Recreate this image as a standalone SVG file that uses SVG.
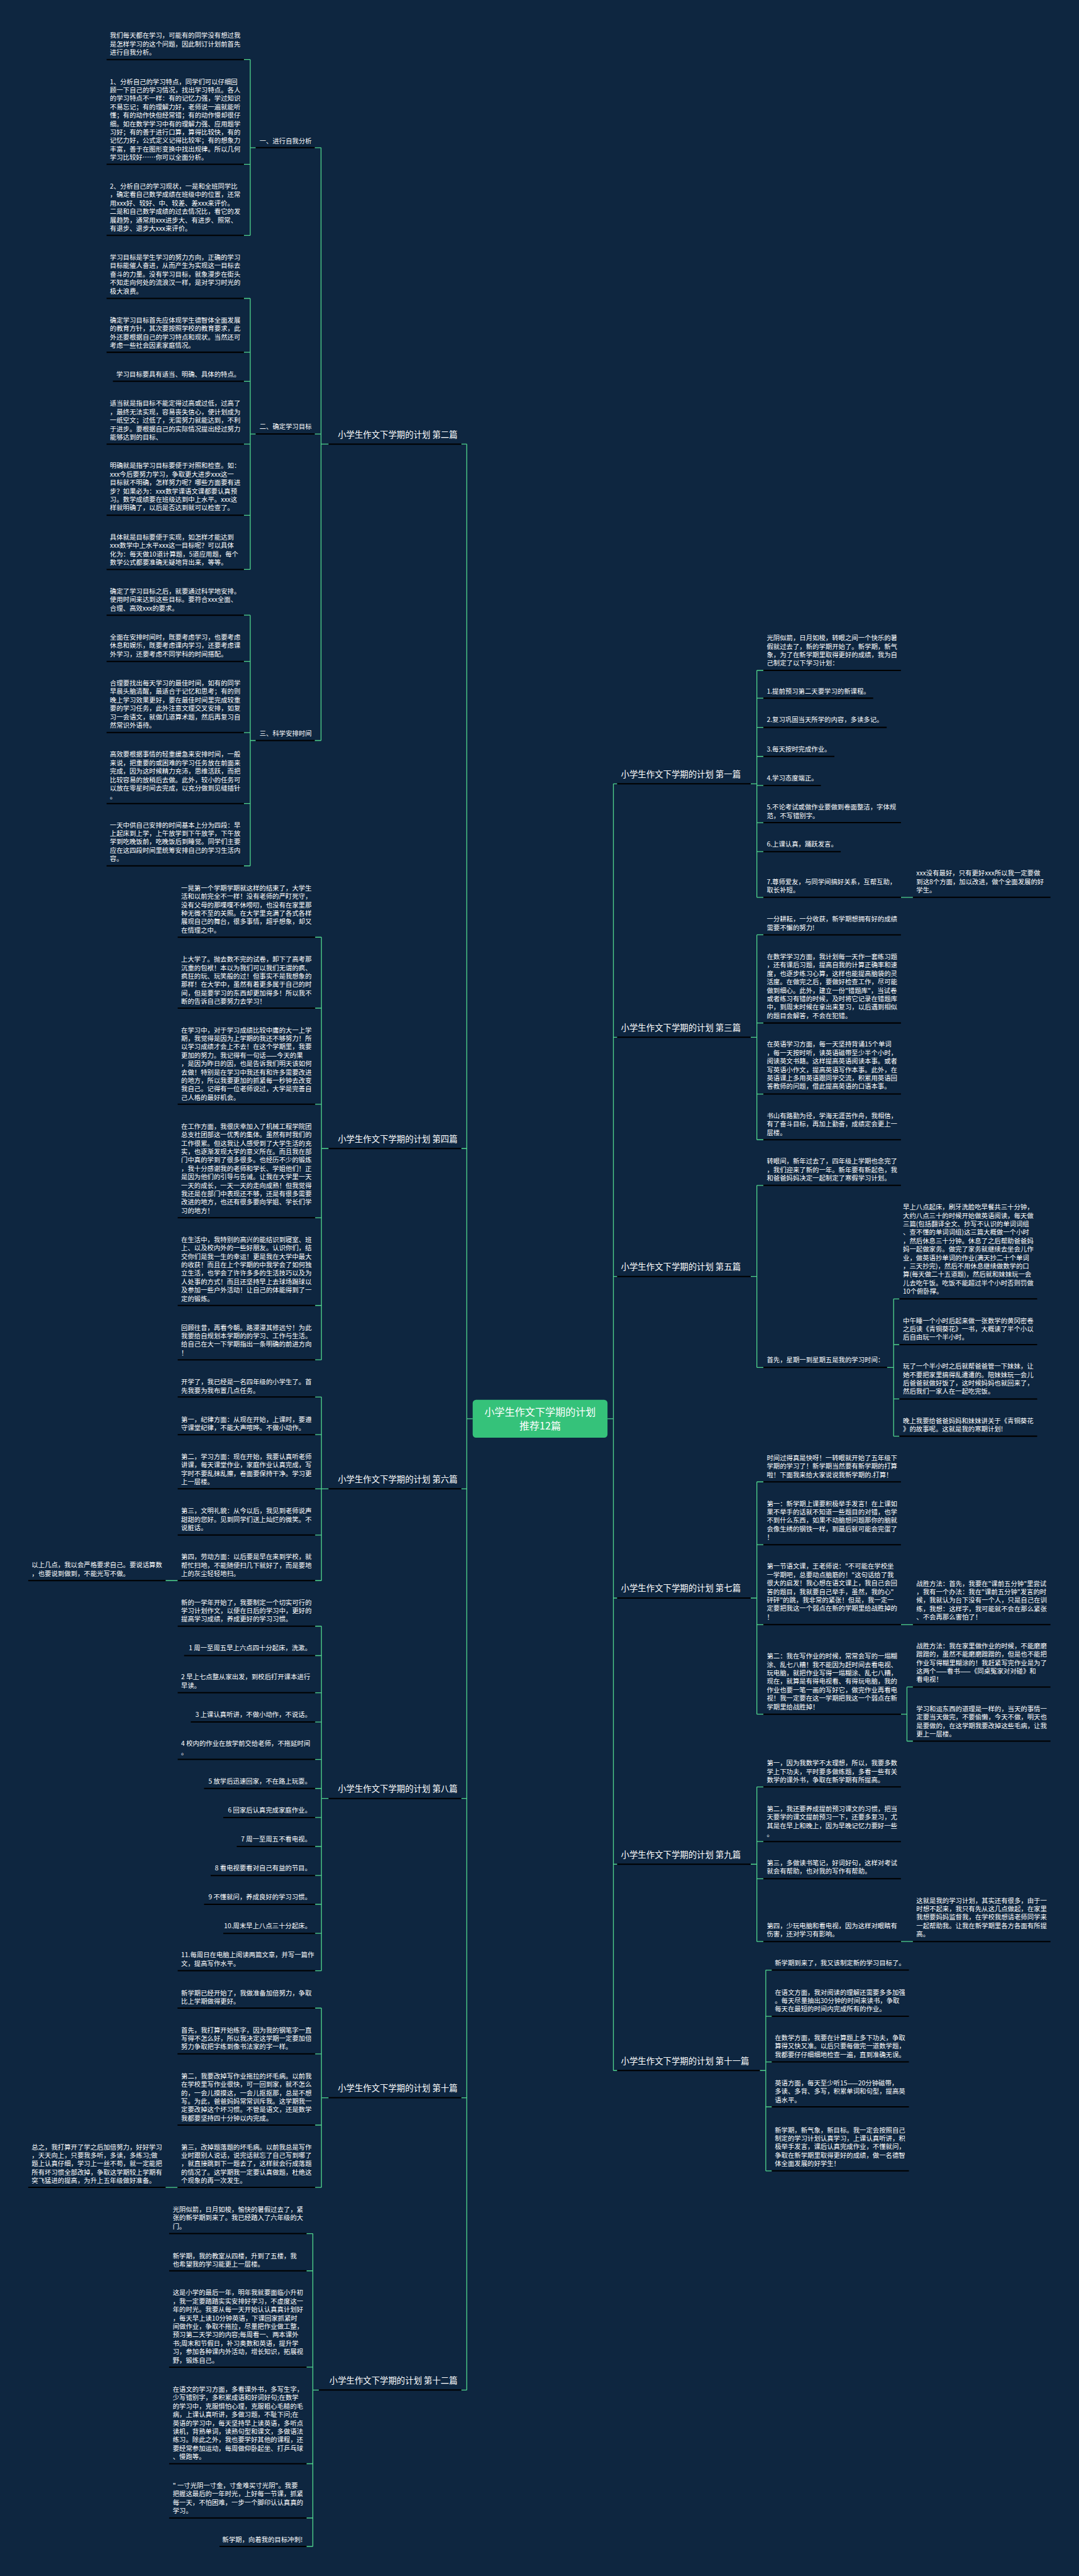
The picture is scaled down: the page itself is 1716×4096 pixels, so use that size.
<svg xmlns="http://www.w3.org/2000/svg" width="1716" height="4096" viewBox="0 0 1716 4096">
<style>
.t{font-family:"Noto Sans CJK SC","Noto Sans",sans-serif;font-size:15.5px;fill:#ffffff}
.lb{font-family:"Noto Sans CJK SC","Noto Sans",sans-serif;font-size:20px;fill:#ffffff}
.ct{font-family:"Noto Sans CJK SC","Noto Sans",sans-serif;font-size:24px;fill:#ffffff}
.ul{stroke:#000000;stroke-width:3}
.cn{stroke:#4fd18b;stroke-width:2;fill:none}
</style>
<rect width="1716" height="4096" fill="#0e2640"/>
<g transform="scale(0.67)">
<g id="connectors" class="cn">
<path d="M579 141.3H594M579 390H594M579 558.7H594M594 141.3V558.7M594 350.5H607M747 350.5H762"/>
<path d="M579 708.2H594M579 836H594M579 905H594M579 1054H594M579 1222.9H594M579 1351.4H594M594 708.2V1351.4M594 1030H607M747 1030H762"/>
<path d="M579 1460H594M579 1569.6H594M579 1738.6H594M579 1907H594M579 2054.9H594M594 1460V2054.9M594 1757.4H607M747 1757.4H762"/>
<path d="M762 350.5V1757.4M762 1054H780"/>
<path d="M748 2224.3H763M748 2392.6H763M748 2620.6H763M748 2890H763M748 3098.2H763M748 3227.1H763M763 2224.3V3227.1M763 2725.7H780"/>
<path d="M748 3315.4H763M748 3404.7H763M748 3533.3H763M748 3643H763M748 3751.1H763M763 3315.4V3751.1M763 3533.3H780M393 3751.1H421.8"/>
<path d="M748 3859.3H763M748 3929.1H763M748 4017.3H763M748 4086.7H763M748 4175.5H763M748 4244.4H763M748 4313.3H763M748 4382.1H763M748 4451H763M748 4519.4H763M748 4588.3H763M748 4677H763M763 3859.3V4677M763 4268.2H780"/>
<path d="M748 4765.7H763M748 4874.4H763M748 5043.3H763M748 5191.2H763M763 4765.7V5191.2M763 4978.5H780M393 5191.2H421.4"/>
<path d="M727.5 5300.9H742.5M727.5 5389.2H742.5M727.5 5617.8H742.5M727.5 5847H742.5M727.5 5975.7H742.5M727.5 6043.3H742.5M742.5 5300.9V6043.3M742.5 5672.1H757"/>
<path d="M1122 3367H1108M1108 1054V5672.1M1095 1054H1108M1095 2725.7H1108M1095 3533.3H1108M1095 4268.2H1108M1095 4978.5H1108M1095 5672.1H1108"/>
<path d="M1442 3367H1456M1456 1860.2V4913.8M1456 1860.2H1465M1456 2461.7H1465M1456 3029.3H1465M1456 3792.5H1465M1456 4424.3H1465M1456 4913.8H1465"/>
<path d="M1782 1860.2H1796.5M1796.5 1591V2129.6M1796.5 1591H1812M1796.5 1656.9H1812M1796.5 1726.3H1812M1796.5 1795.2H1812M1796.5 1864H1812M1796.5 1952.4H1812M1796.5 2021.2H1812M1796.5 2129.6H1812M2138.6 2129.6H2167"/>
<path d="M1782 2461.7H1796.5M1796.5 2218.5V2704.8M1796.5 2218.5H1812M1796.5 2427.8H1812M1796.5 2596.4H1812M1796.5 2704.8H1812"/>
<path d="M1782 3029.3H1796.5M1796.5 2813.2V3245.3M1796.5 2813.2H1812M1796.5 3245.3H1812M2105.6 3245.3H2121.2M2121.2 3082.6V3408.4M2121.2 3082.6H2134.9M2121.2 3191H2134.9M2121.2 3320H2134.9M2121.2 3408.4H2134.9"/>
<path d="M1782 3792.5H1796.5M1796.5 3516.8V4068.2M1796.5 3516.8H1812M1796.5 3665.9H1812M1796.5 3855.7H1812M1796.5 4068.2H1812M2138.6 3855.7H2167M2138.6 4068.2H2152.8M2152.8 4003.6V4132.1M2152.8 4003.6H2167M2152.8 4132.1H2167"/>
<path d="M1782 4424.3H1796.5M1796.5 4240.8V4607.7M1796.5 4240.8H1812M1796.5 4370.4H1812M1796.5 4458.7H1812M1796.5 4607.7H1812M2138.6 4607.7H2167"/>
<path d="M1803.6 4913.8H1817.7M1817.7 4675.5V5152M1817.7 4675.5H1832M1817.7 4785.2H1832M1817.7 4893.4H1832M1817.7 5000H1832M1817.7 5152H1832"/>
</g>

<g id="center">
<rect x="1122" y="3322" width="320" height="90" rx="8" fill="#35c27a"/>
<text class="ct" text-anchor="middle"><tspan x="1282" y="3359">小学生作文下学期的计划</tspan><tspan x="1282" y="3392">推荐12篇</tspan></text>
</g>

<g id="b2"><text class="lb" text-anchor="end" x="1086" y="1038.3">小学生作文下学期的计划 第二篇</text><line class="ul" x1="780" y1="1054" x2="1095" y2="1054"/></g>
<g id="b2-s1"><text class="t" x="616" y="339.6">一、进行自我分析</text><line class="ul" x1="607" y1="350.5" x2="747" y2="350.5"/></g>
<g id="b2-s2"><text class="t" x="616" y="1018.6">二、确定学习目标</text><line class="ul" x1="607" y1="1030" x2="747" y2="1030"/></g>
<g id="b2-s3"><text class="t" x="616" y="1746.6">三、科学安排时间</text><line class="ul" x1="607" y1="1757.4" x2="747" y2="1757.4"/></g>
<g id="b2-a"><text class="t" y="89.8"><tspan x="261">我们每天都在学习，可能有的同学没有想过我</tspan><tspan x="261" dy="20">是怎样学习的这个问题，因此制订计划前首先</tspan><tspan x="261" dy="20">进行自我分析。</tspan></text><line class="ul" x1="253" y1="141.3" x2="579" y2="141.3"/></g>
<g id="b2-b"><text class="t" y="199.5"><tspan x="261">1、分析自己的学习特点，同学们可以仔细回</tspan><tspan x="261" dy="20">顾一下自己的学习情况，找出学习特点。各人</tspan><tspan x="261" dy="20">的学习特点不一样：有的记忆力强，学过知识</tspan><tspan x="261" dy="20">不易忘记；有的理解力好，老师说一遍就能听</tspan><tspan x="261" dy="20">懂；有的动作快但经常错；有的动作慢却很仔</tspan><tspan x="261" dy="20">细。如在数学学习中有的理解力强、应用题学</tspan><tspan x="261" dy="20">习好；有的善于进行口算，算得比较快，有的</tspan><tspan x="261" dy="20">记忆力好，公式定义记得比较牢；有的想象力</tspan><tspan x="261" dy="20">丰富，善于在图形变换中找出规律。所以几何</tspan><tspan x="261" dy="20">学习比较好……你可以全面分析。</tspan></text><line class="ul" x1="253" y1="390" x2="579" y2="390"/></g>
<g id="b2-c"><text class="t" y="447.9"><tspan x="261">2、分析自己的学习现状，一是和全班同学比</tspan><tspan x="261" dy="20">，确定看自己数学成绩在班级中的位置，还常</tspan><tspan x="261" dy="20">用xxx好、较好、中、较差、差xxx来评价。</tspan><tspan x="261" dy="20">二是和自己数学成绩的过去情况比，看它的发</tspan><tspan x="261" dy="20">展趋势，通常用xxx进步大、有进步、照常、</tspan><tspan x="261" dy="20">有退步、退步大xxx来评价。</tspan></text><line class="ul" x1="253" y1="558.7" x2="579" y2="558.7"/></g>
<g id="b2-d"><text class="t" y="616.3"><tspan x="261">学习目标是学生学习的努力方向，正确的学习</tspan><tspan x="261" dy="20">目标能催人奋进，从而产生为实现这一目标去</tspan><tspan x="261" dy="20">奋斗的力量。没有学习目标，就象漫步在街头</tspan><tspan x="261" dy="20">不知走向何处的流浪汉一样，是对学习时光的</tspan><tspan x="261" dy="20">极大浪费。</tspan></text><line class="ul" x1="253" y1="708.2" x2="579" y2="708.2"/></g>
<g id="b2-e"><text class="t" y="765.8"><tspan x="261">确定学习目标首先应体现学生德智体全面发展</tspan><tspan x="261" dy="20">的教育方针，其次要按照学校的教育要求，此</tspan><tspan x="261" dy="20">外还要根据自己的学习特点和现状。当然还可</tspan><tspan x="261" dy="20">考虑一些社会因素家庭情况。</tspan></text><line class="ul" x1="253" y1="836" x2="579" y2="836"/></g>
<g id="b2-f"><text class="t" text-anchor="end" x="570.5" y="893.8">学习目标要具有适当、明确、具体的特点。</text><line class="ul" x1="268" y1="905" x2="579" y2="905"/></g>
<g id="b2-g"><text class="t" y="963.2"><tspan x="261">适当就是指目标不能定得过高或过低，过高了</tspan><tspan x="261" dy="20">，最终无法实现，容易丧失信心，使计划成为</tspan><tspan x="261" dy="20">一纸空文；过低了，无需努力就能达到，不利</tspan><tspan x="261" dy="20">于进步。要根据自己的实际情况提出经过努力</tspan><tspan x="261" dy="20">能够达到的目标、</tspan></text><line class="ul" x1="253" y1="1054" x2="579" y2="1054"/></g>
<g id="b2-h"><text class="t" y="1111.1"><tspan x="261">明确就是指学习目标要便于对照和检查。如：</tspan><tspan x="261" dy="20">xxx今后要努力学习，争取更大进步xxx这一</tspan><tspan x="261" dy="20">目标就不明确，怎样努力呢？哪些方面要有进</tspan><tspan x="261" dy="20">步？如果必为：xxx数学课语文课都要认真预</tspan><tspan x="261" dy="20">习。数学成绩要在班级达到中上水平。xxx这</tspan><tspan x="261" dy="20">样就明确了，以后是否达到就可以检查了。</tspan></text><line class="ul" x1="253" y1="1222.9" x2="579" y2="1222.9"/></g>
<g id="b2-i"><text class="t" y="1280.5"><tspan x="261">具体就是目标要便于实现，如怎样才能达到</tspan><tspan x="261" dy="20">xxx数学中上水平xxx这一目标呢？可以具体</tspan><tspan x="261" dy="20">化为：每天做10道计算题，5道应用题，每个</tspan><tspan x="261" dy="20">数学公式都要准确无疑地背出来，等等。</tspan></text><line class="ul" x1="253" y1="1351.4" x2="579" y2="1351.4"/></g>
<g id="b2-j"><text class="t" y="1409.1"><tspan x="261">确定了学习目标之后，就要通过科学地安排。</tspan><tspan x="261" dy="20">使用时间来达到这些目标。要符合xxx全面、</tspan><tspan x="261" dy="20">合理、高效xxx的要求。</tspan></text><line class="ul" x1="253" y1="1460" x2="579" y2="1460"/></g>
<g id="b2-k"><text class="t" y="1517.7"><tspan x="261">全面在安排时间时，既要考虑学习，也要考虑</tspan><tspan x="261" dy="20">休息和娱乐，既要考虑课内学习，还要考虑课</tspan><tspan x="261" dy="20">外学习，还要考虑不同学科的时间搭配。</tspan></text><line class="ul" x1="253" y1="1569.6" x2="579" y2="1569.6"/></g>
<g id="b2-l"><text class="t" y="1626.8"><tspan x="261">合理要找出每天学习的最佳时间，如有的同学</tspan><tspan x="261" dy="20">早晨头脑清醒，最适合于记忆和思考；有的则</tspan><tspan x="261" dy="20">晚上学习效果更好，要在最佳时间里完成较重</tspan><tspan x="261" dy="20">要的学习任务，此外注意文理交叉安排，如复</tspan><tspan x="261" dy="20">习一会语文，就做几道算术题，然后再复习自</tspan><tspan x="261" dy="20">然常识外语待。</tspan></text><line class="ul" x1="253" y1="1738.6" x2="579" y2="1738.6"/></g>
<g id="b2-m"><text class="t" y="1796.2"><tspan x="261">高效要根据事情的轻重缓急来安排时间，一般</tspan><tspan x="261" dy="20">来说，把重要的或困难的学习任务放在前面来</tspan><tspan x="261" dy="20">完成，因为这时候精力充沛，思维活跃，而把</tspan><tspan x="261" dy="20">比较容易的放稍后去做。此外，较小的任务可</tspan><tspan x="261" dy="20">以放在零星时间去完成，以充分做到见缝插针</tspan><tspan x="261" dy="20">。</tspan></text><line class="ul" x1="253" y1="1907" x2="579" y2="1907"/></g>
<g id="b2-n"><text class="t" y="1963.6"><tspan x="261">一天中供自己安排的时间基本上分为四段：早</tspan><tspan x="261" dy="20">上起床到上学，上午放学到下午放学，下午放</tspan><tspan x="261" dy="20">学到吃晚饭前，吃晚饭后到睡觉。同学们主要</tspan><tspan x="261" dy="20">应在这四段时间里统筹安排自己的学习生活内</tspan><tspan x="261" dy="20">容。</tspan></text><line class="ul" x1="253" y1="2054.9" x2="579" y2="2054.9"/></g>

<g id="b4"><text class="lb" text-anchor="end" x="1086" y="2710">小学生作文下学期的计划 第四篇</text><line class="ul" x1="780" y1="2725.7" x2="1095" y2="2725.7"/></g>
<g id="b4-p"><text class="t" y="2113.1"><tspan x="430">一晃第一个学期学期就这样的结束了，大学生</tspan><tspan x="430" dy="20">活和以前完全不一样！没有老师的严盯死守，</tspan><tspan x="430" dy="20">没有父母的那喋喋不休唠叨，也没有在家里那</tspan><tspan x="430" dy="20">种无微不至的关照。在大学里充满了各式各样</tspan><tspan x="430" dy="20">展现自己的舞台，很多事情，超乎想象，却又</tspan><tspan x="430" dy="20">在情理之中。</tspan></text><line class="ul" x1="421.8" y1="2224.3" x2="748" y2="2224.3"/></g>
<g id="b4-q"><text class="t" y="2282.4"><tspan x="430">上大学了。抛去数不完的试卷，卸下了高考那</tspan><tspan x="430" dy="20">沉重的包袱！本以为我们可以我们无谓的疯、</tspan><tspan x="430" dy="20">疯狂的玩、玩笑般的过！但事实不是我想象的</tspan><tspan x="430" dy="20">那样！在大学中，虽然有着更多属于自己的时</tspan><tspan x="430" dy="20">间，但是要学习的东西却更加得多！所以我不</tspan><tspan x="430" dy="20">断的告诉自己要努力去学习！</tspan></text><line class="ul" x1="421.8" y1="2392.6" x2="748" y2="2392.6"/></g>
<g id="b4-r"><text class="t" y="2450.2"><tspan x="430">在学习中，对于学习成绩比较中庸的大一上学</tspan><tspan x="430" dy="20">期，我觉得是因为上学期的我还不够努力！所</tspan><tspan x="430" dy="20">以学习成绩才会上不去！在这个学期里，我要</tspan><tspan x="430" dy="20">更加的努力。我记得有一句话——今天的果</tspan><tspan x="430" dy="20">，是因为昨日的因，也是告诉我们明天该如何</tspan><tspan x="430" dy="20">去做！特别是在学习中我还有和许多需要改进</tspan><tspan x="430" dy="20">的地方，所以我要更加的抓紧每一秒钟去改变</tspan><tspan x="430" dy="20">我自己。记得有一位老师说过，大学是完善自</tspan><tspan x="430" dy="20">己人格的最好机会。</tspan></text><line class="ul" x1="421.8" y1="2620.6" x2="748" y2="2620.6"/></g>
<g id="b4-s"><text class="t" y="2678.8"><tspan x="430">在工作方面，我很庆幸加入了机械工程学院团</tspan><tspan x="430" dy="20">总支社团部这一优秀的集体。虽然有时我们的</tspan><tspan x="430" dy="20">工作很累。但这我让人感受到了大学生活的充</tspan><tspan x="430" dy="20">实，也逐渐发现大学的意义所在。而且我在部</tspan><tspan x="430" dy="20">门中真的学到了很多很多。也经历不少的锻炼</tspan><tspan x="430" dy="20">，我十分感谢我的老师和学长、学姐他们！正</tspan><tspan x="430" dy="20">是因为他们的引导与告诫。让我在大学里一天</tspan><tspan x="430" dy="20">一天的成长，一天一天的走向成熟！但我觉得</tspan><tspan x="430" dy="20">我还是在部门中表现还不够，还是有很多需要</tspan><tspan x="430" dy="20">改进的地方，也还有很多要向学姐、学长们学</tspan><tspan x="430" dy="20">习的地方！</tspan></text><line class="ul" x1="421.8" y1="2890" x2="748" y2="2890"/></g>
<g id="b4-t"><text class="t" y="2947.6"><tspan x="430">在生活中，我特别的高兴的能结识到寝室、班</tspan><tspan x="430" dy="20">上、以及校内外的一些好朋友。认识你们，结</tspan><tspan x="430" dy="20">交你们是我一生的幸运！更是我在大学中最大</tspan><tspan x="430" dy="20">的收获！而且在上个学期的中我学会了如何独</tspan><tspan x="430" dy="20">立生活，也学会了许许多多的生活技巧以及为</tspan><tspan x="430" dy="20">人处事的方式！而且还坚持早上去球场踢球以</tspan><tspan x="430" dy="20">及参加一些户外活动！让自己的体能得到了一</tspan><tspan x="430" dy="20">定的锻炼。</tspan></text><line class="ul" x1="421.8" y1="3098.2" x2="748" y2="3098.2"/></g>
<g id="b4-u"><text class="t" y="3156.2"><tspan x="430">回顾往昔，再看今朝。路漫漫其修远兮！为此</tspan><tspan x="430" dy="20">我要给自规划本学期的的学习、工作与生活。</tspan><tspan x="430" dy="20">给自己在大一下学期指出一条明确的前进方向</tspan><tspan x="430" dy="20">！</tspan></text><line class="ul" x1="421.8" y1="3227.1" x2="748" y2="3227.1"/></g>

<g id="b6"><text class="lb" text-anchor="end" x="1086" y="3517.6">小学生作文下学期的计划 第六篇</text><line class="ul" x1="780" y1="3533.3" x2="1095" y2="3533.3"/></g>
<g id="b6-v"><text class="t" y="3285.3"><tspan x="430">开学了，我已经是一名四年级的小学生了。首</tspan><tspan x="430" dy="20">先我要为我布置几点任务。</tspan></text><line class="ul" x1="421.8" y1="3315.4" x2="748" y2="3315.4"/></g>
<g id="b6-w"><text class="t" y="3374.1"><tspan x="430">第一，纪律方面：从现在开始，上课时，要遵</tspan><tspan x="430" dy="20">守课堂纪律，不能大声喧哗。不做小动作。</tspan></text><line class="ul" x1="421.8" y1="3404.7" x2="748" y2="3404.7"/></g>
<g id="b6-x"><text class="t" y="3462.3"><tspan x="430">第二，学习方面：现在开始，我要认真听老师</tspan><tspan x="430" dy="20">讲课，每天课堂作业，家庭作业认真完成，写</tspan><tspan x="430" dy="20">字时不要乱抹乱擦，卷面要保持干净。学习更</tspan><tspan x="430" dy="20">上一层楼。</tspan></text><line class="ul" x1="421.8" y1="3533.3" x2="748" y2="3533.3"/></g>
<g id="b6-y"><text class="t" y="3591.4"><tspan x="430">第三，文明礼貌：从今以后，我见到老师说声</tspan><tspan x="430" dy="20">甜甜的您好。见到同学们送上灿烂的微笑。不</tspan><tspan x="430" dy="20">说脏话。</tspan></text><line class="ul" x1="421.8" y1="3643" x2="748" y2="3643"/></g>
<g id="b6-z"><text class="t" y="3700.6"><tspan x="430">第四，劳动方面：以后要是早在来到学校，就</tspan><tspan x="430" dy="20">帮忙扫地，不能随便扫几下就好了，而是要地</tspan><tspan x="430" dy="20">上的灰尘轻轻地扫。</tspan></text><line class="ul" x1="421.8" y1="3751.1" x2="748" y2="3751.1"/></g>
<g id="b6-z1"><text class="t" y="3720"><tspan x="75">以上几点，我以会严格要求自己。要说话算数</tspan><tspan x="75" dy="20">，也要说到做到，不能光写不做。</tspan></text><line class="ul" x1="67" y1="3751.1" x2="393" y2="3751.1"/></g>

<g id="b8"><text class="lb" text-anchor="end" x="1086" y="4252.5">小学生作文下学期的计划 第八篇</text><line class="ul" x1="780" y1="4268.2" x2="1095" y2="4268.2"/></g>
<g id="b8-a"><text class="t" y="3808.3"><tspan x="430">新的一学年开始了，我要制定一个切实可行的</tspan><tspan x="430" dy="20">学习计划作文，以便在日后的学习中，更好的</tspan><tspan x="430" dy="20">提高学习成绩，养成更好的学习习惯。</tspan></text><line class="ul" x1="421.8" y1="3859.3" x2="748" y2="3859.3"/></g>
<g id="b8-1"><text class="t" text-anchor="end" x="739" y="3917.1">1 周一至周五早上六点四十分起床，洗漱。</text><line class="ul" x1="437" y1="3929.1" x2="748" y2="3929.1"/></g>
<g id="b8-2"><text class="t" y="3985.7"><tspan x="430">2 早上七点整从家出发，到校后打开课本进行</tspan><tspan x="430" dy="20">早读。</tspan></text><line class="ul" x1="421.8" y1="4017.3" x2="748" y2="4017.3"/></g>
<g id="b8-3"><text class="t" text-anchor="end" x="739" y="4075">3 上课认真听讲，不做小动作，不说话。</text><line class="ul" x1="452.8" y1="4086.7" x2="748" y2="4086.7"/></g>
<g id="b8-4"><text class="t" y="4143.9"><tspan x="430">4 校内的作业在放学前交给老师，不拖延时间</tspan><tspan x="430" dy="20">。</tspan></text><line class="ul" x1="421.8" y1="4175.5" x2="748" y2="4175.5"/></g>
<g id="b8-5"><text class="t" text-anchor="end" x="739" y="4232.6">5 放学后迅速回家，不在路上玩耍。</text><line class="ul" x1="484.3" y1="4244.4" x2="748" y2="4244.4"/></g>
<g id="b8-6"><text class="t" text-anchor="end" x="739" y="4301.5">6 回家后认真完成家庭作业。</text><line class="ul" x1="530" y1="4313.3" x2="748" y2="4313.3"/></g>
<g id="b8-7"><text class="t" text-anchor="end" x="739" y="4369.9">7 周一至周五不看电视。</text><line class="ul" x1="562" y1="4382.1" x2="748" y2="4382.1"/></g>
<g id="b8-8"><text class="t" text-anchor="end" x="739" y="4438.8">8 看电视要看对自己有益的节目。</text><line class="ul" x1="500" y1="4451" x2="748" y2="4451"/></g>
<g id="b8-9"><text class="t" text-anchor="end" x="739" y="4507.6">9 不懂就问，养成良好的学习习惯。</text><line class="ul" x1="484.3" y1="4519.4" x2="748" y2="4519.4"/></g>
<g id="b8-10"><text class="t" text-anchor="end" x="739" y="4576.5">10.周末早上八点三十分起床。</text><line class="ul" x1="530" y1="4588.3" x2="748" y2="4588.3"/></g>
<g id="b8-11"><text class="t" y="4645.4"><tspan x="430">11.每周日在电脑上阅读两篇文章，并写一篇作</tspan><tspan x="430" dy="20">文，提高写作水平。</tspan></text><line class="ul" x1="421.8" y1="4677" x2="748" y2="4677"/></g>

<g id="b10"><text class="lb" text-anchor="end" x="1086" y="4962.8">小学生作文下学期的计划 第十篇</text><line class="ul" x1="780" y1="4978.5" x2="1095" y2="4978.5"/></g>
<g id="b10-a"><text class="t" y="4735.1"><tspan x="430">新学期已经开始了，我做准备加倍努力，争取</tspan><tspan x="430" dy="20">比上学期做得更好。</tspan></text><line class="ul" x1="421.4" y1="4765.7" x2="748" y2="4765.7"/></g>
<g id="b10-b"><text class="t" y="4823.4"><tspan x="430">首先，我打算开始练字，因为我的钢笔字一直</tspan><tspan x="430" dy="20">写得不怎么好，所以我决定这学期一定要加倍</tspan><tspan x="430" dy="20">努力争取把字练到像书法家的字一样。</tspan></text><line class="ul" x1="421.4" y1="4874.4" x2="748" y2="4874.4"/></g>
<g id="b10-c"><text class="t" y="4932.5"><tspan x="430">第二，我要改掉写作业拖拉的坏毛病。以前我</tspan><tspan x="430" dy="20">在学校里写作业很快，可一回到家，就不怎么</tspan><tspan x="430" dy="20">的，一会儿摸摸这，一会儿抠抠那，总是不想</tspan><tspan x="430" dy="20">写。为此，爸爸妈妈常常训斥我。这学期我一</tspan><tspan x="430" dy="20">定要改掉这个坏习惯。不管是语文，还是数学</tspan><tspan x="430" dy="20">我都要坚持四十分钟以内完成。</tspan></text><line class="ul" x1="421.4" y1="5043.3" x2="748" y2="5043.3"/></g>
<g id="b10-d"><text class="t" y="5100.9"><tspan x="430">第三，改掉题落题的坏毛病。以前我总是写作</tspan><tspan x="430" dy="20">业时跟别人说话，说完话就忘了自己写到哪了</tspan><tspan x="430" dy="20">，就直接跳到下一题去了，这样就会行成落题</tspan><tspan x="430" dy="20">的情况了。这学期我一定要认真做题，杜绝这</tspan><tspan x="430" dy="20">个现象的再一次发生。</tspan></text><line class="ul" x1="421.4" y1="5191.2" x2="748" y2="5191.2"/></g>
<g id="b10-d1"><text class="t" y="5100.9"><tspan x="75">总之，我打算开了学之后加倍努力，好好学习</tspan><tspan x="75" dy="20">，天天向上，只要我多听，多读，多练习;做</tspan><tspan x="75" dy="20">题上认真仔细，学习上一丝不苟，就一定能把</tspan><tspan x="75" dy="20">所有坏习惯全部改掉，争取这学期较上学期有</tspan><tspan x="75" dy="20">突飞猛进的提高，为升上五年级做好准备。</tspan></text><line class="ul" x1="67" y1="5191.2" x2="393" y2="5191.2"/></g>

<g id="b12"><text class="lb" text-anchor="end" x="1086" y="5656.4">小学生作文下学期的计划 第十二篇</text><line class="ul" x1="757" y1="5672.1" x2="1095" y2="5672.1"/></g>
<g id="b12-a"><text class="t" y="5249.4"><tspan x="410">光阴似箭，日月如梭，愉快的暑假过去了，紧</tspan><tspan x="410" dy="20">张的新学期到来了。我已经踏入了六年级的大</tspan><tspan x="410" dy="20">门。</tspan></text><line class="ul" x1="401.4" y1="5300.9" x2="727.5" y2="5300.9"/></g>
<g id="b12-b"><text class="t" y="5359.1"><tspan x="410">新学期，我的教室从四楼，升到了五楼，我</tspan><tspan x="410" dy="20">也希望我的学习能更上一层楼。</tspan></text><line class="ul" x1="401.4" y1="5389.2" x2="727.5" y2="5389.2"/></g>
<g id="b12-c"><text class="t" y="5446.8"><tspan x="410">这是小学的最后一年，明年我就要面临小升初</tspan><tspan x="410" dy="20">，我一定要踏踏实实安排好学习，不虚度这一</tspan><tspan x="410" dy="20">年的时光。我要从每一天开始认认真真计划好</tspan><tspan x="410" dy="20">，每天早上读10分钟英语，下课回家抓紧时</tspan><tspan x="410" dy="20">间做作业，争取不拖拉，尽量把作业做工整，</tspan><tspan x="410" dy="20">预习第二天学习的内容;每周看一、两本课外</tspan><tspan x="410" dy="20">书;周末和节假日，补习奥数和英语，提升学</tspan><tspan x="410" dy="20">习，参加各种课内外活动，增长知识，拓展视</tspan><tspan x="410" dy="20">野，锻炼自己。</tspan></text><line class="ul" x1="401.4" y1="5617.8" x2="727.5" y2="5617.8"/></g>
<g id="b12-d"><text class="t" y="5676.1"><tspan x="410">在语文的学习方面，多看课外书，多写生字，</tspan><tspan x="410" dy="20">少写错别字，多积累成语和好词好句;在数学</tspan><tspan x="410" dy="20">的学习中，克服惧怕心理，克服粗心毛糙的毛</tspan><tspan x="410" dy="20">病，上课认真听讲，多做习题，不耻下问;在</tspan><tspan x="410" dy="20">英语的学习中，每天坚持早上读英语，多听点</tspan><tspan x="410" dy="20">读机，背熟单词，读熟句型和课文，多做语法</tspan><tspan x="410" dy="20">练习。除此之外，我也要学好其他的课程，还</tspan><tspan x="410" dy="20">要经常参加运动，每周做仰卧起坐、打乒乓球</tspan><tspan x="410" dy="20">、慢跑等。</tspan></text><line class="ul" x1="401.4" y1="5847" x2="727.5" y2="5847"/></g>
<g id="b12-e"><text class="t" y="5904.5"><tspan x="410">" 一寸光阴一寸金，寸金难买寸光阴"。我要</tspan><tspan x="410" dy="20">把握这最后的一年时光，上好每一节课，抓紧</tspan><tspan x="410" dy="20">每一天，不怕困难，一步一个脚印认认真真的</tspan><tspan x="410" dy="20">学习。</tspan></text><line class="ul" x1="401.4" y1="5975.7" x2="727.5" y2="5975.7"/></g>
<g id="b12-f"><text class="t" text-anchor="end" x="718.5" y="6032.3">新学期，向着我的目标冲刺!</text><line class="ul" x1="521" y1="6043.3" x2="727.5" y2="6043.3"/></g>

<g id="b1"><text class="lb" x="1474" y="1844.5">小学生作文下学期的计划 第一篇</text><line class="ul" x1="1465" y1="1860.2" x2="1782" y2="1860.2"/></g>
<g id="b1-0"><text class="t" y="1519.6"><tspan x="1820">光阴似箭，日月如梭，转眼之间一个快乐的暑</tspan><tspan x="1820" dy="20">假就过去了，新的学期开始了。新学期，新气</tspan><tspan x="1820" dy="20">象，为了在新学期里取得更好的成绩，我为自</tspan><tspan x="1820" dy="20">己制定了以下学习计划：</tspan></text><line class="ul" x1="1812" y1="1591" x2="2138.6" y2="1591"/></g>
<g id="b1-1"><text class="t" x="1820" y="1646.3">1.提前预习第二天要学习的新课程。</text><line class="ul" x1="1812" y1="1656.9" x2="2072.6" y2="1656.9"/></g>
<g id="b1-2"><text class="t" x="1820" y="1714">2.复习巩固当天所学的内容，多读多记。</text><line class="ul" x1="1812" y1="1726.3" x2="2104.7" y2="1726.3"/></g>
<g id="b1-3"><text class="t" x="1820" y="1782.9">3.每天按时完成作业。</text><line class="ul" x1="1812" y1="1795.2" x2="1980.6" y2="1795.2"/></g>
<g id="b1-4"><text class="t" x="1820" y="1852.3">4.学习态度端正。</text><line class="ul" x1="1812" y1="1864" x2="1948.5" y2="1864"/></g>
<g id="b1-5"><text class="t" y="1921.1"><tspan x="1820">5.不论考试或做作业要做到卷面整洁，字体规</tspan><tspan x="1820" dy="20">范，不写错别字。</tspan></text><line class="ul" x1="1812" y1="1952.4" x2="2138.6" y2="1952.4"/></g>
<g id="b1-6"><text class="t" x="1820" y="2009.5">6.上课认真，踊跃发言。</text><line class="ul" x1="1812" y1="2021.2" x2="1995.7" y2="2021.2"/></g>
<g id="b1-7"><text class="t" y="2097.8"><tspan x="1820">7.尊师爱友，与同学间搞好关系，互帮互助，</tspan><tspan x="1820" dy="20">取长补短。</tspan></text><line class="ul" x1="1812" y1="2129.6" x2="2138.6" y2="2129.6"/></g>
<g id="b1-7a"><text class="t" y="2078.3"><tspan x="2175">xxx没有最好，只有更好xxx所以我一定要做</tspan><tspan x="2175" dy="20">到这8个方面，加以改进，做个全面发展的好</tspan><tspan x="2175" dy="20">学生。</tspan></text><line class="ul" x1="2167" y1="2129.6" x2="2493.5" y2="2129.6"/></g>

<g id="b3"><text class="lb" x="1474" y="2446">小学生作文下学期的计划 第三篇</text><line class="ul" x1="1465" y1="2461.7" x2="1782" y2="2461.7"/></g>
<g id="b3-a"><text class="t" y="2187.3"><tspan x="1820">一分耕耘，一分收获，新学期想拥有好的成绩</tspan><tspan x="1820" dy="20">需要不懈的努力!</tspan></text><line class="ul" x1="1812" y1="2218.5" x2="2138.6" y2="2218.5"/></g>
<g id="b3-b"><text class="t" y="2276.2"><tspan x="1820">在数学学习方面，我计划每一天作一套练习题</tspan><tspan x="1820" dy="20">，还有课后习题，提高自我的计算正确率和速</tspan><tspan x="1820" dy="20">度，也逐步练习心算，这样也能提高脑袋的灵</tspan><tspan x="1820" dy="20">活度。在做完之后，要做好检查工作，尽可能</tspan><tspan x="1820" dy="20">做到细心。此外，建立一份"错题库"，当试卷</tspan><tspan x="1820" dy="20">或者练习有错的时候，及时将它记录在错题库</tspan><tspan x="1820" dy="20">中，到周末时候在拿出来复习，以后遇到相似</tspan><tspan x="1820" dy="20">的题目会解答，不会在犯错。</tspan></text><line class="ul" x1="1812" y1="2427.8" x2="2138.6" y2="2427.8"/></g>
<g id="b3-c"><text class="t" y="2484.3"><tspan x="1820">在英语学习方面，每一天坚持背诵15个单词</tspan><tspan x="1820" dy="20">，每一天按时听，读英语磁带至少半个小时，</tspan><tspan x="1820" dy="20">阅读英文书籍。这样提高英语阅读本事。或者</tspan><tspan x="1820" dy="20">写英语小作文，提高英语写作本事。此外，在</tspan><tspan x="1820" dy="20">英语课上多用英语跟同学交流，积累用英语回</tspan><tspan x="1820" dy="20">答教师的问题，借此提高英语的口语本事。</tspan></text><line class="ul" x1="1812" y1="2596.4" x2="2138.6" y2="2596.4"/></g>
<g id="b3-d"><text class="t" y="2653.5"><tspan x="1820">书山有路勤为径，学海无涯苦作舟，我相信，</tspan><tspan x="1820" dy="20">有了奋斗目标，再加上勤奋，成绩定会更上一</tspan><tspan x="1820" dy="20">层楼。</tspan></text><line class="ul" x1="1812" y1="2704.8" x2="2138.6" y2="2704.8"/></g>

<g id="b5"><text class="lb" x="1474" y="3013.6">小学生作文下学期的计划 第五篇</text><line class="ul" x1="1465" y1="3029.3" x2="1782" y2="3029.3"/></g>
<g id="b5-e"><text class="t" y="2761.9"><tspan x="1820">转眼间，新年过去了，四年级上学期也念完了</tspan><tspan x="1820" dy="20">，我们迎来了新的一年。新年要有新起色，我</tspan><tspan x="1820" dy="20">和爸爸妈妈决定一起制定了寒假学习计划。</tspan></text><line class="ul" x1="1812" y1="2813.2" x2="2138.6" y2="2813.2"/></g>
<g id="b5-f"><text class="t" x="1820" y="3233.5">首先，星期一到星期五是我的学习时间：</text><line class="ul" x1="1812" y1="3245.3" x2="2105.6" y2="3245.3"/></g>
<g id="b5-f1"><text class="t" y="2870.3"><tspan x="2143.4">早上八点起床，刷牙洗脸吃早餐共三十分钟，</tspan><tspan x="2143.4" dy="20">大约八点三十的时候开始做英语阅读，每天做</tspan><tspan x="2143.4" dy="20">三篇(包括翻译全文、抄写不认识的单词词组</tspan><tspan x="2143.4" dy="20">、查不懂的单词词组)这三篇大概做一个小时</tspan><tspan x="2143.4" dy="20">，然后休息三十分钟。休息了之后帮助爸爸妈</tspan><tspan x="2143.4" dy="20">妈一起做家务。做完了家务就继续去坐会儿作</tspan><tspan x="2143.4" dy="20">业，做英语抄单词的作业(满天抄二十个单词</tspan><tspan x="2143.4" dy="20">，三天抄完)，然后不用休息继续做数学的口</tspan><tspan x="2143.4" dy="20">算(每天做二十五道题)，然后就和妹妹玩一会</tspan><tspan x="2143.4" dy="20">儿去吃午饭。吃饭不能超过半个小时否则罚做</tspan><tspan x="2143.4" dy="20">10个俯卧撑。</tspan></text><line class="ul" x1="2134.9" y1="3082.6" x2="2461.9" y2="3082.6"/></g>
<g id="b5-f2"><text class="t" y="3139.8"><tspan x="2143.4">中午睡一个小时后起来做一张数学的黄冈密卷</tspan><tspan x="2143.4" dy="20">之后读《青铜葵花》一书，大概读了半个小以</tspan><tspan x="2143.4" dy="20">后自由玩一个半小时。</tspan></text><line class="ul" x1="2134.9" y1="3191" x2="2461.9" y2="3191"/></g>
<g id="b5-f3"><text class="t" y="3248.1"><tspan x="2143.4">玩了一个半小时之后就帮爸爸管一下妹妹，让</tspan><tspan x="2143.4" dy="20">她不要把家里搞得乱遭遭的。陪妹妹玩一会儿</tspan><tspan x="2143.4" dy="20">后爸爸就做好饭了，这时候妈妈也就回来了，</tspan><tspan x="2143.4" dy="20">然后我们一家人在一起吃完饭。</tspan></text><line class="ul" x1="2134.9" y1="3320" x2="2461.9" y2="3320"/></g>
<g id="b5-f4"><text class="t" y="3377.2"><tspan x="2143.4">晚上我要给爸爸妈妈和妹妹讲关于《青铜葵花</tspan><tspan x="2143.4" dy="20">》的故事呢。这就是我的寒期计划!</tspan></text><line class="ul" x1="2134.9" y1="3408.4" x2="2461.9" y2="3408.4"/></g>

<g id="b7"><text class="lb" x="1474" y="3776.8">小学生作文下学期的计划 第七篇</text><line class="ul" x1="1465" y1="3792.5" x2="1782" y2="3792.5"/></g>
<g id="b7-g"><text class="t" y="3465.5"><tspan x="1820">时间过得真是快呀！一转眼就开始了五年级下</tspan><tspan x="1820" dy="20">学期的学习了！新学期当然要有新学期的打算</tspan><tspan x="1820" dy="20">啦！下面我来给大家说说我新学期的.打算！</tspan></text><line class="ul" x1="1812" y1="3516.8" x2="2138.6" y2="3516.8"/></g>
<g id="b7-h"><text class="t" y="3573.9"><tspan x="1820">第一：新学期上课要积极举手发言！在上课如</tspan><tspan x="1820" dy="20">果不举手的话就不知道一些题目的对错，也学</tspan><tspan x="1820" dy="20">不到什么东西，如果不动脑想问题那你的脑就</tspan><tspan x="1820" dy="20">会像生绣的钢铁一样，到最后就可能会完蛋了</tspan><tspan x="1820" dy="20">！</tspan></text><line class="ul" x1="1812" y1="3665.9" x2="2138.6" y2="3665.9"/></g>
<g id="b7-i"><text class="t" y="3723"><tspan x="1820">第一节语文课，王老师说："不可能在学校坐</tspan><tspan x="1820" dy="20">一学期吧，总要动点脑筋的！"这句话给了我</tspan><tspan x="1820" dy="20">很大的启发！我心想在语文课上，我自己会回</tspan><tspan x="1820" dy="20">答的题目，我就要自己举手，虽然，我的心"</tspan><tspan x="1820" dy="20">砰砰"的跳，我非常的紧张！但是，我一定一</tspan><tspan x="1820" dy="20">定要把我这一个弱点在新的学期里给战胜掉的</tspan><tspan x="1820" dy="20">！</tspan></text><line class="ul" x1="1812" y1="3855.7" x2="2138.6" y2="3855.7"/></g>
<g id="b7-i1"><text class="t" y="3763.7"><tspan x="2175">战胜方法：首先，我要在"课前五分钟"里尝试</tspan><tspan x="2175" dy="20">，我有一个办法：我在"课前五分钟"发言的时</tspan><tspan x="2175" dy="20">候，我就认为台下没有一个人，只是自己在训</tspan><tspan x="2175" dy="20">练，我想：这样字，我可能就不会在那么紧张</tspan><tspan x="2175" dy="20">、不会再那么害怕了！</tspan></text><line class="ul" x1="2167" y1="3855.7" x2="2493.5" y2="3855.7"/></g>
<g id="b7-j"><text class="t" y="3936.1"><tspan x="1820">第二：我在写作业的时候，常常会写的一塌糊</tspan><tspan x="1820" dy="20">涂、乱七八糟！我不能因为赶时间去看电视、</tspan><tspan x="1820" dy="20">玩电脑，就把作业写得一塌糊涂、乱七八糟，</tspan><tspan x="1820" dy="20">现在，就算是有得电视看、有得玩电脑，我的</tspan><tspan x="1820" dy="20">作业也要一笔一画的写好它，做完作业再看电</tspan><tspan x="1820" dy="20">视！我一定要在这一学期把我这一个弱点在新</tspan><tspan x="1820" dy="20">学期里给战胜掉！</tspan></text><line class="ul" x1="1812" y1="4068.2" x2="2138.6" y2="4068.2"/></g>
<g id="b7-j1"><text class="t" y="3911.7"><tspan x="2175">战胜方法：我在家里做作业的时候，不能磨磨</tspan><tspan x="2175" dy="20">蹭蹭的，虽然不能磨磨蹭蹭的，但是也不能把</tspan><tspan x="2175" dy="20">作业写得糊里糊涂的！我赶紧写完作业是为了</tspan><tspan x="2175" dy="20">这两个——看书——《同桌冤家对对碰》和</tspan><tspan x="2175" dy="20">看电视！</tspan></text><line class="ul" x1="2167" y1="4003.6" x2="2493.5" y2="4003.6"/></g>
<g id="b7-j2"><text class="t" y="4060.8"><tspan x="2175">学习和运东西的道理是一样的，当天的事情一</tspan><tspan x="2175" dy="20">定要当天做完，不要偷懒，今天不做，明天也</tspan><tspan x="2175" dy="20">是要做的，在这学期我要改掉这些毛病，让我</tspan><tspan x="2175" dy="20">更上一层楼。</tspan></text><line class="ul" x1="2167" y1="4132.1" x2="2493.5" y2="4132.1"/></g>

<g id="b9"><text class="lb" x="1474" y="4408.6">小学生作文下学期的计划 第九篇</text><line class="ul" x1="1465" y1="4424.3" x2="1782" y2="4424.3"/></g>
<g id="b9-1"><text class="t" y="4189.8"><tspan x="1820">第一，因为我数学不太理想，所以，我要多数</tspan><tspan x="1820" dy="20">学上下功夫，平时要多做练题，多看一些有关</tspan><tspan x="1820" dy="20">数学的课外书，争取在新学期有所提高。</tspan></text><line class="ul" x1="1812" y1="4240.8" x2="2138.6" y2="4240.8"/></g>
<g id="b9-2"><text class="t" y="4298.5"><tspan x="1820">第二，我还要养成提前预习课文的习惯，把当</tspan><tspan x="1820" dy="20">天要学的课文提前预习一下，还要多复习，尤</tspan><tspan x="1820" dy="20">其是在早上和晚上，因为早晚记忆力要好一些</tspan><tspan x="1820" dy="20">。</tspan></text><line class="ul" x1="1812" y1="4370.4" x2="2138.6" y2="4370.4"/></g>
<g id="b9-3"><text class="t" y="4427"><tspan x="1820">第三，多做读书笔记，好词好句，这样对考试</tspan><tspan x="1820" dy="20">就会有帮助，也对我的写作有帮助。</tspan></text><line class="ul" x1="1812" y1="4458.7" x2="2138.6" y2="4458.7"/></g>
<g id="b9-4"><text class="t" y="4575.5"><tspan x="1820">第四，少玩电脑和看电视，因为这样对眼睛有</tspan><tspan x="1820" dy="20">伤害，还对学习有影响。</tspan></text><line class="ul" x1="1812" y1="4607.7" x2="2138.6" y2="4607.7"/></g>
<g id="b9-4a"><text class="t" y="4515.8"><tspan x="2175">这就是我的学习计划，其实还有很多，由于一</tspan><tspan x="2175" dy="20">时想不起来，我只有先从这几点做起，在家里</tspan><tspan x="2175" dy="20">我想要妈妈监督我，在学校我想请老师同学来</tspan><tspan x="2175" dy="20">一起帮助我。让我在新学期里各方各面有所提</tspan><tspan x="2175" dy="20">高。</tspan></text><line class="ul" x1="2167" y1="4607.7" x2="2493.5" y2="4607.7"/></g>

<g id="b11"><text class="lb" x="1474" y="4898.1">小学生作文下学期的计划 第十一篇</text><line class="ul" x1="1465" y1="4913.8" x2="1803.6" y2="4913.8"/></g>
<g id="b11-1"><text class="t" x="1839" y="4664.3">新学期到来了，我又该制定新的学习目标了。</text><line class="ul" x1="1832" y1="4675.5" x2="2157.5" y2="4675.5"/></g>
<g id="b11-2"><text class="t" y="4733.7"><tspan x="1839">在语文方面，我对阅读的理解还需要多多加强</tspan><tspan x="1839" dy="20">。每天尽量抽出30分钟的时间来读书，争取</tspan><tspan x="1839" dy="20">每天在最短的时间内完成所有的作业。</tspan></text><line class="ul" x1="1832" y1="4785.2" x2="2157.5" y2="4785.2"/></g>
<g id="b11-3"><text class="t" y="4841.8"><tspan x="1839">在数学方面，我要在计算题上多下功夫，争取</tspan><tspan x="1839" dy="20">算得又快又准。以后只要每做完一道数学题，</tspan><tspan x="1839" dy="20">我都要仔仔细细地检查一遍，直到准确无误。</tspan></text><line class="ul" x1="1832" y1="4893.4" x2="2157.5" y2="4893.4"/></g>
<g id="b11-4"><text class="t" y="4949"><tspan x="1839">英语方面，每天至少听15——20分钟磁带，</tspan><tspan x="1839" dy="20">多读、多背、多写，积累单词和句型，提高英</tspan><tspan x="1839" dy="20">语水平。</tspan></text><line class="ul" x1="1832" y1="5000" x2="2157.5" y2="5000"/></g>
<g id="b11-5"><text class="t" y="5060.6"><tspan x="1839">新学期，新气象，新目标。我一定会按照自己</tspan><tspan x="1839" dy="20">制定的学习计划认真学习，上课认真听讲，积</tspan><tspan x="1839" dy="20">极举手发言，课后认真完成作业，不懂就问，</tspan><tspan x="1839" dy="20">争取在新学期里取得更好的成绩，做一名德智</tspan><tspan x="1839" dy="20">体全面发展的好学生！</tspan></text><line class="ul" x1="1832" y1="5152" x2="2157.5" y2="5152"/></g>
</g>
</svg>
